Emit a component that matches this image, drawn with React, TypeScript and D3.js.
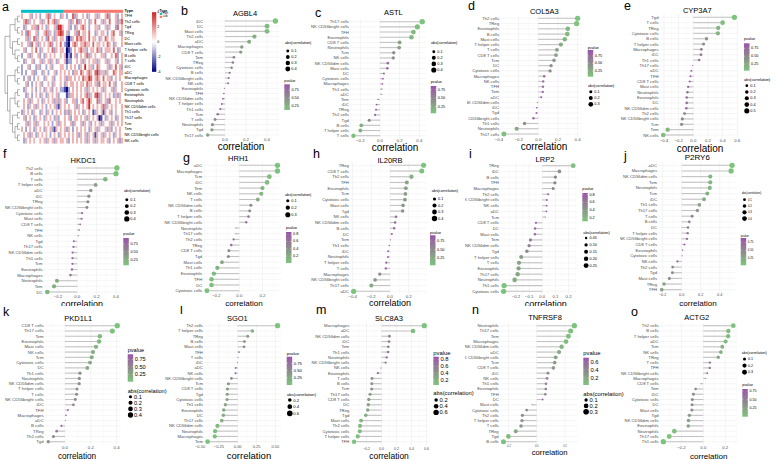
import React from 'react';
import * as d3 from 'd3';

const FONT = "'Liberation Sans', Arial, Helvetica, sans-serif";

// ---------------- Panel a : heatmap ----------------
const heatRows = ["TFH","Th2 cells","Tgd","TReg","DC","Mast cells","T helper cells","B cells","T cells","iDC","aDC","Macrophages","CD8 T cells","Cytotoxic cells","Eosinophils","Neutrophils","NK CD56dim cells","Th1 cells","Th17 cells","Tcm","Tem","NK CD56bright cells","NK cells"];
// digit levels 0..8 (4 = 0); z-score = (d - 4) * heatLevelStep
const heatLevelStep = 1.4;
const heatValues = [
  "5444534543 4456345443 5434463544 5435445354 4563445345",
  "4563545445 3546456354 4445354635 4543546445 3546445356",
  "4354455364 5435445387 5445343545 6543445534 4535443645",
  "5436544534 4563543568 6453445364 5546443545 5434564453",
  "4453546354 5436453545 5421354656 5546455435 4654554445",
  "5445364535 4545634546 4321456545 5655464554 5465435445",
  "4534454643 5445463545 5412345456 5534554653 4555464354",
  "3445354453 4354545445 4513245345 4563545445 5344546345",
  "4354453445 3545354354 4523344545 3545455354 4535445345",
  "3445344353 4434534445 5434545435 4745534654 4453546453",
  "3434453344 3543445345 4545435546 5456546735 5354465455",
  "4345343454 4354453445 4535545454 6557645654 6455345454",
  "4453434545 3445435445 4354554545 5465545364 5546453445",
  "4354454345 4354534543 3213454545 4535454545 3544535445",
  "4435434543 5435454534 4423554545 4563546735 4545435354",
  "4545354454 3545453535 4534455345 6457544635 4536445454",
  "4543545354 5434545325 4545445354 5457454545 6354545445",
  "3545435443 5435434545 4353545454 3545423545 2545345445",
  "4534543545 4354543534 4545345545 4535454512 4354543545",
  "4453545354 4545434535 4544535445 3545345453 5445354545",
  "5434543545 4354532545 4535434545 4543545354 4535345454",
  "4545354354 5454345435 4545454535 4535452545 3545435454",
  "4354545445 4535453545 5453454545 4535453545 5453454535",
];
const typeLevels = ["High", "Low"];
const typeHighCount = 21;
const heatLegendTicks = [4, 2, 0, -2, -4];
const dendroTree: any = [[[[0,1],[2,3]],[[4,5],[6,[7,8]]]],[[[9,10],[11,12]],[[[13,14],[15,16]],[[17,18],[[19,20],[21,22]]]]]];

// ---------------- Lollipop panels data ----------------
const agbl4Cells = ["iDC","DC","Mast cells","Th2 cells","aDC","Macrophages","CD8 T cells","Tem","TReg","Cytotoxic cells","B cells","NK CD56bright cells","NK cells","Eosinophils","TFH","NK CD56dim cells","T helper cells","Th1 cells","Tcm","T cells","Neutrophils","Tgd","Th17 cells"];
const agbl4Cor = [0.48,0.40,0.40,0.28,0.23,0.16,0.15,0.085,0.075,0.063,0.045,0.035,0.03,-0.006,-0.012,-0.02,-0.03,-0.045,-0.07,-0.095,-0.12,-0.125,-0.165];
const agbl4P = [0.12,0.18,0.18,0.25,0.3,0.4,0.42,0.6,0.62,0.66,0.72,0.76,0.78,0.93,0.9,0.88,0.82,0.75,0.68,0.55,0.45,0.44,0.36];

const astlCells = ["Th17 cells","NK CD56bright cells","TFH","Eosinophils","CD8 T cells","Neutrophils","Tcm","NK cells","NK CD56dim cells","Mast cells","DC","Cytotoxic cells","Macrophages","Th1 cells","aDC","Tem","iDC","TReg","Th2 cells","Tgd","B cells","T helper cells","T cells"];
const astlCor = [0.43,0.38,0.34,0.32,0.20,0.195,0.14,0.135,0.08,0.075,0.04,0.03,0.024,0.02,0.018,-0.02,-0.035,-0.04,-0.05,-0.11,-0.19,-0.2,-0.27];
const astlP = [0.05,0.09,0.12,0.14,0.3,0.3,0.45,0.45,0.65,0.67,0.8,0.83,0.85,0.86,0.86,0.86,0.81,0.8,0.77,0.55,0.22,0.2,0.08];

const col5a3Cells = ["Th2 cells","TReg","Eosinophils","B cells","Mast cells","T helper cells","T cells","CD8 T cells","Tcm","DC","Cytotoxic cells","Macrophages","NK cells","TFH","Tem","aDC","NK CD56dim cells","iDC","Tgd","NK CD56bright cells","Th1 cells","Neutrophils","Th17 cells"];
const col5a3Cor = [0.40,0.39,0.30,0.295,0.27,0.23,0.19,0.18,0.16,0.13,0.12,0.06,0.05,0.048,0.046,0.03,-0.01,-0.017,-0.02,-0.05,-0.14,-0.22,-0.35];
const col5a3P = [0.05,0.06,0.14,0.14,0.18,0.24,0.33,0.35,0.4,0.47,0.5,0.75,0.78,0.78,0.78,0.88,0.95,0.93,0.92,0.8,0.45,0.26,0.08];

const cyp3a7Cells = ["Tgd","T cells","TReg","Cytotoxic cells","B cells","T helper cells","Macrophages","iDC","Th1 cells","Th17 cells","aDC","TFH","CD8 T cells","Mast cells","Neutrophils","Eosinophils","DC","NK CD56dim cells","Th2 cells","NK CD56bright cells","Tcm","Tem","NK cells"];
const cyp3a7Cor = [0.56,0.40,0.34,0.335,0.18,0.14,0.11,0.105,0.08,-0.01,-0.03,-0.04,-0.05,-0.07,-0.08,-0.09,-0.09,-0.095,-0.12,-0.15,-0.16,-0.35,-0.41];
const cyp3a7P = [0.04,0.1,0.15,0.15,0.4,0.48,0.55,0.55,0.65,0.91,0.85,0.82,0.8,0.74,0.72,0.7,0.7,0.68,0.6,0.5,0.47,0.14,0.09];

const hkdc1Cells = ["Th2 cells","B cells","T cells","T helper cells","aDC","iDC","TReg","NK CD56bright cells","Cytotoxic cells","Mast cells","CD8 T cells","TFH","NK cells","Tgd","Th17 cells","NK CD56dim cells","Th1 cells","Tcm","Eosinophils","Macrophages","Neutrophils","Tem","DC"];
const hkdc1Cor = [0.41,0.40,0.29,0.19,0.14,0.12,0.11,0.10,0.05,0.045,0.03,0.02,0.015,-0.035,-0.04,-0.048,-0.05,-0.05,-0.055,-0.07,-0.21,-0.24,-0.31];
const hkdc1P = [0.07,0.08,0.18,0.35,0.45,0.5,0.53,0.56,0.76,0.78,0.86,0.9,0.94,0.84,0.82,0.78,0.78,0.78,0.76,0.7,0.3,0.24,0.16];

const hrh1Cells = ["aDC","Macrophages","Tcm","iDC","Tem","NK cells","T cells","NK CD56dim cells","B cells","T helper cells","NK CD56bright cells","Neutrophils","Th17 cells","Th2 cells","TReg","CD8 T cells","Tgd","Mast cells","Th1 cells","Eosinophils","TFH","DC","Cytotoxic cells"];
const hrh1Cor = [0.33,0.33,0.26,0.24,0.20,0.19,0.16,0.10,0.09,0.08,0.06,-0.03,-0.03,-0.05,-0.07,-0.09,-0.095,-0.15,-0.19,-0.22,-0.24,-0.24,-0.28];
const hrh1P = [0.01,0.01,0.05,0.07,0.13,0.14,0.2,0.45,0.5,0.55,0.65,0.85,0.86,0.72,0.62,0.52,0.5,0.25,0.14,0.08,0.06,0.06,0.03];

const il20rbCells = ["TReg","CD8 T cells","Th2 cells","TFH","Eosinophils","Tcm","Cytotoxic cells","Mast cells","Tgd","NK cells","NK CD56dim cells","B cells","DC","Tem","Th1 cells","iDC","Neutrophils","T helper cells","T cells","Macrophages","NK CD56bright cells","Th17 cells","aDC"];
const il20rbCor = [0.36,0.34,0.23,0.18,0.17,0.165,0.16,0.14,0.135,0.065,0.055,0.045,0.02,0.005,-0.008,-0.02,-0.022,-0.04,-0.045,-0.11,-0.16,-0.2,-0.39];
const il20rbP = [0.04,0.05,0.2,0.3,0.32,0.32,0.35,0.4,0.42,0.7,0.74,0.78,0.88,0.93,0.92,0.88,0.88,0.8,0.78,0.52,0.36,0.26,0.03];

const lrp2Cells = ["TReg","iDC","B cells","TFH","Macrophages","Th2 cells","NK CD56bright cells","NK cells","aDC","Tcm","CD8 T cells","DC","Mast cells","Tem","NK CD56dim cells","Tgd","T helper cells","T cells","Eosinophils","Th17 cells","Neutrophils","Th1 cells","Cytotoxic cells"];
const lrp2Cor = [0.235,0.13,0.10,0.096,0.083,0.045,0.035,0.033,0.032,0.023,-0.048,-0.055,-0.056,-0.09,-0.10,-0.117,-0.16,-0.177,-0.18,-0.187,-0.21,-0.29,-0.294];
const lrp2P = [0.14,0.45,0.52,0.53,0.56,0.72,0.76,0.78,0.78,0.84,0.72,0.7,0.7,0.6,0.56,0.5,0.38,0.34,0.34,0.32,0.28,0.13,0.12];

const p2ry6Cells = ["aDC","Macrophages","NK CD56dim cells","Tem","Neutrophils","Tcm","iDC","Th1 cells","Th17 cells","T cells","B cells","DC","T helper cells","NK CD56bright cells","CD8 T cells","Eosinophils","Cytotoxic cells","NK cells","Th2 cells","Tgd","Mast cells","TReg","TFH"];
const p2ry6Cor = [0.53,0.52,0.30,0.30,0.295,0.27,0.235,0.186,0.165,0.11,0.08,0.067,0.063,0.056,0.03,0.01,0.004,-0.045,-0.095,-0.098,-0.13,-0.186,-0.21];
const p2ry6P = [0.03,0.03,0.14,0.14,0.14,0.18,0.22,0.3,0.35,0.5,0.6,0.64,0.65,0.68,0.8,0.86,0.89,0.75,0.55,0.54,0.44,0.3,0.25];

const pkd1l1Cells = ["CD8 T cells","Th17 cells","Tem","Eosinophils","Mast cells","NK cells","Tcm","Cytotoxic cells","DC","Th1 cells","Neutrophils","NK CD56dim cells","T helper cells","T cells","NK CD56bright cells","iDC","TFH","Macrophages","aDC","B cells","TReg","Th2 cells","Tgd"];
const pkd1l1Cor = [0.405,0.367,0.27,0.264,0.24,0.217,0.207,0.194,0.173,0.116,0.111,0.11,0.093,0.09,0.08,0.065,0.023,0.008,0.003,-0.028,-0.065,-0.09,-0.13];
const pkd1l1P = [0.01,0.02,0.1,0.11,0.14,0.18,0.2,0.22,0.26,0.42,0.43,0.43,0.5,0.51,0.55,0.6,0.82,0.9,0.92,0.8,0.62,0.52,0.38];

const sgo1Cells = ["Th2 cells","T helper cells","TReg","B cells","Mast cells","TFH","T cells","iDC","aDC","NK cells","NK CD56bright cells","Tcm","CD8 T cells","Tgd","Cytotoxic cells","Th1 cells","Eosinophils","DC","Th17 cells","NK CD56dim cells","Neutrophils","Macrophages","Tem"];
const sgo1Cor = [0.53,0.195,0.133,0.09,0.085,0.018,0.004,-0.004,-0.027,-0.03,-0.084,-0.124,-0.137,-0.14,-0.142,-0.164,-0.186,-0.19,-0.212,-0.27,-0.30,-0.305,-0.40];
const sgo1P = [0.0,0.18,0.35,0.5,0.52,0.9,0.98,0.97,0.85,0.84,0.55,0.38,0.33,0.32,0.32,0.26,0.2,0.2,0.16,0.08,0.05,0.05,0.01];

const slc8a3Cells = ["Macrophages","aDC","NK CD56dim cells","iDC","Tem","Th1 cells","Neutrophils","NK CD56bright cells","NK cells","Eosinophils","T cells","B cells","Tcm","Th17 cells","CD8 T cells","DC","TReg","Tgd","Mast cells","Th2 cells","Cytotoxic cells","T helper cells","TFH"];
const slc8a3Cor = [0.57,0.42,0.105,0.10,0.09,0.088,0.07,0.055,-0.01,-0.05,-0.127,-0.13,-0.132,-0.153,-0.17,-0.176,-0.184,-0.21,-0.273,-0.287,-0.29,-0.317,-0.367];
const slc8a3P = [0.06,0.1,0.55,0.55,0.58,0.58,0.65,0.7,0.87,0.72,0.42,0.41,0.41,0.36,0.32,0.3,0.29,0.24,0.15,0.13,0.13,0.1,0.07];

const tnfrsf8Cells = ["Neutrophils","Th17 cells","Tem","Macrophages","NK CD56dim cells","aDC","NK CD56bright cells","Tcm","CD8 T cells","iDC","NK cells","Th1 cells","Eosinophils","TFH","DC","Mast cells","Cytotoxic cells","Th2 cells","T helper cells","T cells","TReg","Tgd","B cells"];
const tnfrsf8Cor = [0.266,0.24,0.224,0.207,0.176,0.158,0.134,0.127,0.118,0.08,0.073,0.066,0.064,0.061,0.042,-0.033,-0.071,-0.101,-0.104,-0.111,-0.148,-0.2,-0.235];
const tnfrsf8P = [0.02,0.04,0.05,0.07,0.12,0.16,0.22,0.24,0.27,0.4,0.43,0.46,0.47,0.48,0.58,0.7,0.44,0.33,0.32,0.3,0.2,0.08,0.04];

const actg2Cells = ["Th2 cells","B cells","T helper cells","aDC","Tcm","NK cells","TReg","T cells","TFH","NK CD56bright cells","Macrophages","CD8 T cells","Tem","iDC","Cytotoxic cells","DC","Mast cells","Tgd","NK CD56dim cells","Eosinophils","Neutrophils","Th17 cells","Th1 cells"];
const actg2Cor = [0.273,0.228,0.226,0.203,0.173,0.16,0.136,0.06,0.059,0.036,0.021,-0.021,-0.07,-0.09,-0.1,-0.102,-0.104,-0.127,-0.135,-0.137,-0.264,-0.31,-0.364];
const actg2P = [0.02,0.05,0.05,0.08,0.12,0.15,0.2,0.55,0.55,0.68,0.78,0.81,0.52,0.43,0.4,0.39,0.39,0.3,0.27,0.27,0.03,0.01,0.0];

const ticks1 = [0, 0.2, 0.4];
const ticks2 = [-0.2, 0, 0.2, 0.4];
const ticks3 = [-0.4, -0.2, 0, 0.2, 0.4];
const ticks4 = [-0.4, -0.2, 0, 0.2, 0.4, 0.6];
const ticks5 = [-0.2, 0, 0.2];
const ticks6 = [-0.4, -0.2, 0, 0.2];
const ticks7 = [-0.2, -0.1, 0, 0.1, 0.2];
const ticks8 = [-0.5, -0.25, 0, 0.25, 0.5];
const ticks9 = [-0.2, 0, 0.2, 0.4, 0.6];

const pBreaks3 = [0.25, 0.5, 0.75];
const pBreaks4 = [0.2, 0.4, 0.6, 0.8];
const pBreaksN = [0.2, 0.4, 0.6];
const sBreaks3 = [0.1, 0.2, 0.3];
const sBreaks4 = [0.1, 0.2, 0.3, 0.4];
const sBreaks5 = [0.1, 0.2, 0.3, 0.4, 0.5];
const sBreaksI = [0.05, 0.1, 0.15, 0.2, 0.25];
const sBreaksL = [0.2, 0.4, 0.6];

const PGREEN = '#7cc47c', PGREY = '#8c8c8c', PPURPLE = '#9b52ab';
const D0 = 1.0, D1 = 5.3;

type SizeLeg = { x: number; titleY: number; firstY: number; step: number; breaks: number[]; fmt: string };
type PLeg = { x: number; titleY: number; top: number; bottom: number; breaks: number[]; fmt: string };
type Cfg = {
  id: string; letter: string; lx: number; ly: number; gene: string;
  cells: string[]; cor: number[]; p: number[];
  clipL: number; clipT: number; clipB: number;
  x0: number; x1: number; yTop: number; yBot: number; tickY: number; xlabY: number; xlabX: number;
  titleX: number; titleY: number; ticks: number[]; tfmt: string;
  fsY: number; fsT: number; fsTitle: number; fsX: number; fsL: number;
  sl: SizeLeg; pl: PLeg;
};

const mk = (o: any): Cfg => ({ fsY: 4.2, fsT: 4.3, fsTitle: 7.5, fsX: 10, fsL: 3.8, tfmt: '.1f', ...o });

const PANELS: Cfg[] = [
  mk({ id: 'b', letter: 'b', lx: 181, ly: 11, gene: 'AGBL4', cells: agbl4Cells, cor: agbl4Cor, p: agbl4P, clipL: 155, clipT: 0, clipB: 152,
    x0: 204.3, x1: 278.8, yTop: 21, yBot: 135, tickY: 139.8, xlabY: 146.5, xlabX: 241, titleX: 245, titleY: 13.3, ticks: ticks1,
    sl: { x: 285, titleY: 43.3, firstY: 51, step: 6, breaks: sBreaks4, fmt: '.1f' }, pl: { x: 284.3, titleY: 81, top: 84.3, bottom: 110, breaks: pBreaks3, fmt: '.2f' } }),
  mk({ id: 'c', letter: 'c', lx: 315, ly: 13, gene: 'ASTL', cells: astlCells, cor: astlCor, p: astlP, clipL: 310, clipT: 0, clipB: 152,
    x0: 350, x1: 425.7, yTop: 21.7, yBot: 135.7, tickY: 140.5, xlabY: 147.2, xlabX: 395, titleX: 393.3, titleY: 12.7, ticks: ticks2,
    sl: { x: 431, titleY: 43.3, firstY: 51.7, step: 6.1, breaks: sBreaks4, fmt: '.1f' }, pl: { x: 430.7, titleY: 81.7, top: 86, bottom: 113.3, breaks: pBreaks3, fmt: '.2f' } }),
  mk({ id: 'd', letter: 'd', lx: 468, ly: 6, gene: 'COL5A3', cells: col5a3Cells, cor: col5a3Cor, p: col5a3P, clipL: 467, clipT: 0, clipB: 152,
    x0: 500.2, x1: 581.3, yTop: 18.3, yBot: 134, tickY: 139.8, xlabY: 146.7, xlabX: 544, titleX: 544.3, titleY: 11, ticks: ticks3,
    pl: { x: 587.7, titleY: 47.7, top: 50, bottom: 76.7, breaks: pBreaks3, fmt: '.2f' }, sl: { x: 588, titleY: 86, firstY: 91.7, step: 6.3, breaks: sBreaks3, fmt: '.1f' } }),
  mk({ id: 'e', letter: 'e', lx: 624, ly: 6, gene: 'CYP3A7', cells: cyp3a7Cells, cor: cyp3a7Cor, p: cyp3a7P, clipL: 621, clipT: 0, clipB: 152,
    x0: 659.7, x1: 737.9, yTop: 17.3, yBot: 135, tickY: 140.6, xlabY: 148, xlabX: 700, titleX: 697.3, titleY: 10, ticks: ticks4,
    pl: { x: 744, titleY: 39.3, top: 43.3, bottom: 70.7, breaks: pBreaks3, fmt: '.2f' }, sl: { x: 744, titleY: 80, firstY: 85.7, step: 6.3, breaks: sBreaks5, fmt: '.1f' } }),
  mk({ id: 'f', letter: 'f', lx: 3, ly: 154, gene: 'HKDC1', cells: hkdc1Cells, cor: hkdc1Cor, p: hkdc1P, clipL: 0, clipT: 149, clipB: 306,
    x0: 43.8, x1: 120.4, yTop: 168, yBot: 292, tickY: 296.8, xlabY: 304, xlabX: 82, titleX: 83.3, titleY: 160.7, ticks: ticks2, fsX: 9,
    sl: { x: 124, titleY: 190.7, firstY: 199.7, step: 6.4, breaks: sBreaks4, fmt: '.1f' }, pl: { x: 123.3, titleY: 234, top: 238, bottom: 265.3, breaks: pBreaks3, fmt: '.2f' } }),
  mk({ id: 'g', letter: 'g', lx: 183, ly: 158, gene: 'HRH1', cells: hrh1Cells, cor: hrh1Cor, p: hrh1P, clipL: 155, clipT: 149, clipB: 306,
    x0: 203.4, x1: 281, yTop: 165.3, yBot: 290.7, tickY: 295.3, xlabY: 303, xlabX: 244, titleX: 238.3, titleY: 158, ticks: ticks5, fsX: 8,
    sl: { x: 285, titleY: 194.7, firstY: 200.7, step: 7, breaks: sBreaks3, fmt: '.1f' }, pl: { x: 286, titleY: 228, top: 232, bottom: 263, breaks: pBreaks4, fmt: '.1f' } }),
  mk({ id: 'h', letter: 'h', lx: 313, ly: 154, gene: 'IL20RB', cells: il20rbCells, cor: il20rbCor, p: il20rbP, clipL: 310, clipT: 149, clipB: 306,
    x0: 350.1, x1: 427.1, yTop: 165.3, yBot: 291.3, tickY: 296.1, xlabY: 302.8, xlabX: 390, titleX: 390, titleY: 160.7, ticks: ticks6, fsX: 9,
    sl: { x: 431.7, titleY: 191.3, firstY: 199, step: 6.5, breaks: sBreaks4, fmt: '.1f' }, pl: { x: 430, titleY: 233, top: 235.3, bottom: 265.3, breaks: pBreaks3, fmt: '.2f' } }),
  mk({ id: 'i', letter: 'i', lx: 469, ly: 154, gene: 'LRP2', cells: lrp2Cells, cor: lrp2Cor, p: lrp2P, clipL: 465, clipT: 149, clipB: 306,
    x0: 500.1, x1: 576.7, yTop: 165.7, yBot: 291.3, tickY: 296.6, xlabY: 303.8, xlabX: 545.7, titleX: 545, titleY: 159.7, ticks: ticks7, fsX: 9,
    pl: { x: 582.3, titleY: 188.7, top: 193, bottom: 221.3, breaks: pBreaks4, fmt: '.1f' }, sl: { x: 583.3, titleY: 233, firstY: 238, step: 6.9, breaks: sBreaksI, fmt: '.2f' } }),
  mk({ id: 'j', letter: 'j', lx: 624, ly: 156, gene: 'P2RY6', cells: p2ry6Cells, cor: p2ry6Cor, p: p2ry6P, clipL: 620, clipT: 149, clipB: 306,
    x0: 658.2, x1: 735.6, yTop: 165.3, yBot: 289.7, tickY: 294.5, xlabY: 303, xlabX: 698, titleX: 697.3, titleY: 157, ticks: ticks2, fsX: 8, fsL: 2.8, fsT: 3.8, fsTitle: 8,
    sl: { x: 741.7, titleY: 193, firstY: 199.7, step: 6.3, breaks: sBreaks4, fmt: '.1f' }, pl: { x: 740.7, titleY: 236.3, top: 238, bottom: 265.3, breaks: pBreaks3, fmt: '.2f' } }),
  mk({ id: 'k', letter: 'k', lx: 3, ly: 312, gene: 'PKD1L1', cells: pkd1l1Cells, cor: pkd1l1Cor, p: pkd1l1P, clipL: 0, clipT: 306, clipB: 461,
    x0: 44.8, x1: 120.7, yTop: 325.7, yBot: 441.7, tickY: 447.3, xlabY: 456.3, xlabX: 77, titleX: 78.3, titleY: 318.3, ticks: ticks1, fsX: 8.2, fsL: 5.6, fsY: 4.3,
    pl: { x: 127.7, titleY: 350, top: 354.3, bottom: 381.7, breaks: pBreaks3, fmt: '.2f' }, sl: { x: 127.7, titleY: 391, firstY: 396.7, step: 6.1, breaks: sBreaks4, fmt: '.1f' } }),
  mk({ id: 'l', letter: 'l', lx: 180, ly: 310, gene: 'SGO1', cells: sgo1Cells, cor: sgo1Cor, p: sgo1P, clipL: 155, clipT: 306, clipB: 461,
    x0: 204.1, x1: 281.1, yTop: 325.7, yBot: 441.7, tickY: 446.5, xlabY: 455.5, xlabX: 249, titleX: 237.3, titleY: 318.3, ticks: ticks8, tfmt: '.2f', fsX: 9.5, fsL: 4.2, fsT: 4.0,
    pl: { x: 286.7, titleY: 353.3, top: 356.7, bottom: 385, breaks: pBreaks3, fmt: '.2f' }, sl: { x: 287, titleY: 394.3, firstY: 400, step: 6.7, breaks: sBreaksL, fmt: '.1f' } }),
  mk({ id: 'm', letter: 'm', lx: 316, ly: 310, gene: 'SLC8A3', cells: slc8a3Cells, cor: slc8a3Cor, p: slc8a3P, clipL: 300, clipT: 306, clipB: 461,
    x0: 350.5, x1: 427.8, yTop: 325.7, yBot: 441.7, tickY: 448.6, xlabY: 456.2, xlabX: 389, titleX: 389, titleY: 318, ticks: ticks9, fsX: 8.5, fsL: 5.8, fsT: 3.6,
    pl: { x: 433.3, titleY: 353.3, top: 356.7, bottom: 385, breaks: pBreaks4, fmt: '.1f' }, sl: { x: 433.3, titleY: 393.3, firstY: 400, step: 6.2, breaks: sBreaksL, fmt: '.1f' } }),
  mk({ id: 'n', letter: 'n', lx: 472, ly: 310, gene: 'TNFRSF8', cells: tnfrsf8Cells, cor: tnfrsf8Cor, p: tnfrsf8P, clipL: 465, clipT: 306, clipB: 461,
    x0: 499.9, x1: 577.9, yTop: 325.7, yBot: 441.7, tickY: 446.2, xlabY: 452.6, xlabX: 549.7, titleX: 545, titleY: 317.7, ticks: ticks5, fsX: 7.7, fsL: 5.8, fsT: 2.6,
    pl: { x: 583.3, titleY: 353.3, top: 357.7, bottom: 385, breaks: pBreaksN, fmt: '.1f' }, sl: { x: 583.3, titleY: 394.3, firstY: 400, step: 5.9, breaks: sBreaks3, fmt: '.1f' } }),
  mk({ id: 'o', letter: 'o', lx: 631, ly: 312, gene: 'ACTG2', cells: actg2Cells, cor: actg2Cor, p: actg2P, clipL: 620, clipT: 306, clipB: 461,
    x0: 659.8, x1: 736.8, yTop: 325.7, yBot: 441.7, tickY: 447.3, xlabY: 456, xlabX: 708.7, titleX: 696.7, titleY: 317.7, ticks: ticks5, fsX: 8, fsL: 3.6,
    sl: { x: 741.7, titleY: 353.3, firstY: 359, step: 6.6, breaks: sBreaks3, fmt: '.1f' }, pl: { x: 742.3, titleY: 385, top: 389, bottom: 416.7, breaks: pBreaks3, fmt: '.2f' } }),
];

function Lollipop({ c }: { c: Cfg }) {
  const lo = d3.min(c.cor)!, hi = d3.max(c.cor)!;
  const span = hi - lo;
  const x = d3.scaleLinear().domain([lo - 0.05 * span, hi + 0.05 * span]).range([c.x0, c.x1]);
  const y = d3.scalePoint<string>().domain(c.cells).range([c.yTop, c.yBot]);
  const step = (c.yBot - c.yTop) / (c.cells.length - 1);
  const pTop = c.yTop - 0.6 * step, pBot = c.yBot + 0.6 * step;
  const abs = c.cor.map(Math.abs);
  const aMin = d3.min(abs)!, aMax = d3.max(abs)!;
  const rad = (v: number) => {
    const t = Math.max(0, (v - aMin) / (aMax - aMin));
    return (D0 + (D1 - D0) * Math.sqrt(t)) / 2;
  };
  const pMin = d3.min(c.p)!, pMax = d3.max(c.p)!;
  const col = d3.scaleLinear<string>().domain([pMin, (pMin + pMax) / 2, pMax]).range([PGREEN, PGREY, PPURPLE]).interpolate(d3.interpolateLab);
  const fmt = d3.format(c.tfmt);
  const tickStep = c.ticks[1] - c.ticks[0];
  const [d0, d1] = x.domain();
  const minor: number[] = [];
  for (let v = c.ticks[0] - tickStep / 2; v <= d1; v += tickStep) if (v >= d0) minor.push(v);
  const order = d3.range(c.cells.length);
  const gid = 'grad-' + c.id;
  const pScaleY = d3.scaleLinear().domain([pMin, pMax]).range([c.pl.bottom, c.pl.top]);
  const barW = 5.5;
  const fL = c.fsL;
  return (
    <g clipPath={`url(#clip-${c.id})`}>
      <defs>
        <clipPath id={`clip-${c.id}`}>
          <rect x={c.clipL} y={c.clipT} width={777 - c.clipL} height={c.clipB - c.clipT} />
        </clipPath>
        <linearGradient id={gid} x1="0" y1="1" x2="0" y2="0">
          {d3.range(0, 1.0001, 0.1).map((t) => (
            <stop key={t} offset={t} stopColor={col(pMin + t * (pMax - pMin))} />
          ))}
        </linearGradient>
      </defs>
      {minor.map((v) => (
        <line key={'mn' + v} x1={x(v)} x2={x(v)} y1={pTop} y2={pBot} stroke="#f3f3f3" strokeWidth={0.35} />
      ))}
      {c.ticks.map((v) => (
        <line key={'mj' + v} x1={x(v)} x2={x(v)} y1={pTop} y2={pBot} stroke="#e9e9e9" strokeWidth={0.5} />
      ))}
      {c.cells.map((cell) => (
        <line key={'hg' + cell} x1={c.x0} x2={c.x1} y1={y(cell)} y2={y(cell)} stroke="#ececec" strokeWidth={0.5} />
      ))}
      {order.map((i) => (
        <line key={'st' + i} x1={x(0)} x2={x(c.cor[i])} y1={y(c.cells[i])} y2={y(c.cells[i])} stroke="#c3c3c3" strokeWidth={1.1} />
      ))}
      {order.map((i) => (
        <circle key={'pt' + i} cx={x(c.cor[i])} cy={y(c.cells[i])} r={rad(abs[i])} fill={col(c.p[i])} />
      ))}
      {c.cells.map((cell) => (
        <text key={'yl' + cell} x={c.x0 - 1.2} y={y(cell)} fontSize={c.fsY} fill="#4d4d4d" textAnchor="end" dominantBaseline="central">{cell}</text>
      ))}
      {c.ticks.map((v) => (
        <text key={'xt' + v} x={x(v)} y={c.tickY} fontSize={c.fsT} fill="#4d4d4d" textAnchor="middle" dominantBaseline="central">{fmt(v)}</text>
      ))}
      <text x={c.xlabX} y={c.xlabY} fontSize={c.fsX} fill="#000" textAnchor="middle" dominantBaseline="central">correlation</text>
      <text x={c.titleX} y={c.titleY} fontSize={c.fsTitle} fill="#000" textAnchor="middle" dominantBaseline="central">{c.gene}</text>
      <text x={c.sl.x} y={c.sl.titleY} fontSize={fL} fill="#000" dominantBaseline="central">abs(correlation)</text>
      {c.sl.breaks.map((b, i) => (
        <g key={'sl' + b}>
          <circle cx={c.sl.x + 2.8} cy={c.sl.firstY + i * c.sl.step} r={rad(b)} fill="#000" />
          <text x={c.sl.x + 6.3} y={c.sl.firstY + i * c.sl.step} fontSize={fL} fill="#000" dominantBaseline="central">{d3.format(c.sl.fmt)(b)}</text>
        </g>
      ))}
      <text x={c.pl.x} y={c.pl.titleY} fontSize={fL} fill="#000" dominantBaseline="central">pvalue</text>
      <rect x={c.pl.x} y={c.pl.top} width={barW} height={c.pl.bottom - c.pl.top} fill={`url(#${gid})`} />
      {c.pl.breaks.map((b) => (
        <g key={'pl' + b}>
          <line x1={c.pl.x} x2={c.pl.x + 1.1} y1={pScaleY(b)} y2={pScaleY(b)} stroke="#fff" strokeWidth={0.4} />
          <line x1={c.pl.x + barW - 1.1} x2={c.pl.x + barW} y1={pScaleY(b)} y2={pScaleY(b)} stroke="#fff" strokeWidth={0.4} />
          <text x={c.pl.x + barW + 1.6} y={pScaleY(b)} fontSize={fL} fill="#000" dominantBaseline="central">{d3.format(c.pl.fmt)(b)}</text>
        </g>
      ))}
      <text x={c.lx} y={c.ly} fontSize={12.5} fill="#000" dominantBaseline="central">{c.letter}</text>
    </g>
  );
}

function Heatmap() {
  const hx0 = 21, hx1 = 123, hy0 = 13.3, hy1 = 143.5;
  const nCols = heatValues[0].replace(/ /g, '').length;
  const xs = d3.scaleBand<number>().domain(d3.range(nCols)).range([hx0, hx1]);
  const ys = d3.scaleBand<string>().domain(heatRows).range([hy0, hy1]);
  const color = d3.scaleLinear<string>().domain([-4, 0, 4]).range(['#000080', '#ffffff', '#cd2626']).clamp(true);
  const cells: JSX.Element[] = [];
  heatValues.forEach((row, r) => {
    row.replace(/ /g, '').split('').forEach((ch, ci) => {
      const v = (+ch - 4) * heatLevelStep;
      cells.push(<rect key={r + '-' + ci} x={xs(ci)!} y={ys(heatRows[r])!} width={xs.bandwidth() + 0.05} height={ys.bandwidth() + 0.05} fill={color(v)} />);
    });
  });
  const rowY = (i: number) => ys(heatRows[i])! + ys.bandwidth() / 2;
  const depth = (n: any): number => (Array.isArray(n) ? 1 + Math.max(...n.map(depth)) : 0);
  const maxH = depth(dendroTree);
  const dxR = 20, dxL = 5;
  const xOf = (h: number) => dxR - (h / maxH) * (dxR - dxL);
  const segs: [number, number, number, number][] = [];
  const build = (n: any): { y: number; h: number } => {
    if (!Array.isArray(n)) return { y: rowY(n), h: 0 };
    const ch = n.map(build);
    const h = Math.max(...ch.map((c: any) => c.h)) + 1;
    const xp = xOf(h);
    segs.push([xp, ch[0].y, xp, ch[ch.length - 1].y]);
    ch.forEach((c: any) => segs.push([xp, c.y, xOf(c.h), c.y]));
    return { y: (ch[0].y + ch[ch.length - 1].y) / 2, h };
  };
  build(dendroTree);
  const lgTop = 12.2, lgBot = 71.8;
  const lgScale = d3.scaleLinear().domain([-4, 4]).range([lgBot, lgTop]);
  return (
    <g>
      <defs>
        <linearGradient id="heatgrad" x1="0" y1="1" x2="0" y2="0">
          <stop offset="0" stopColor="#000080" />
          <stop offset="0.5" stopColor="#ffffff" />
          <stop offset="1" stopColor="#cd2626" />
        </linearGradient>
      </defs>
      {cells}
      <rect x={hx0} y={9.8} width={xs(typeHighCount)! - hx0} height={3} fill="#00bfc4" />
      <rect x={xs(typeHighCount)!} y={9.8} width={hx1 - xs(typeHighCount)!} height={3} fill="#f8766d" />
      <text x={124.5} y={11.2} fontSize={3.8} fontWeight="bold" fill="#000" dominantBaseline="central">Type</text>
      {heatRows.map((r) => (
        <text key={r} x={124.5} y={ys(r)! + ys.bandwidth() / 2} fontSize={3.8} fill="#000" dominantBaseline="central">{r}</text>
      ))}
      {segs.map((s, i) => (
        <line key={'dg' + i} x1={s[0]} y1={s[1]} x2={s[2]} y2={s[3]} stroke="#555" strokeWidth={0.45} />
      ))}
      <rect x={152} y={lgTop} width={4.3} height={lgBot - lgTop} fill="url(#heatgrad)" />
      {heatLegendTicks.map((t) => (
        <text key={'ht' + t} x={157.3} y={lgScale(t)} fontSize={3.6} fill="#000" dominantBaseline="central">{t}</text>
      ))}
      <text x={159.5} y={10.8} fontSize={3.4} fontWeight="bold" fill="#000" dominantBaseline="central">Type</text>
      <rect x={159.7} y={12.8} width={2.4} height={2.1} fill="#00bfc4" />
      <rect x={159.7} y={15.8} width={2.4} height={2.1} fill="#f8766d" />
      <text x={162.8} y={13.85} fontSize={2.6} fill="#000" dominantBaseline="central">{typeLevels[0]}</text>
      <text x={162.8} y={16.85} fontSize={2.6} fill="#000" dominantBaseline="central">{typeLevels[1]}</text>
      <text x={2} y={7} fontSize={12.5} fill="#000" dominantBaseline="central">a</text>
    </g>
  );
}

export default function App() {
  return (
    <svg width={777} height={461} style={{ position: 'absolute', left: 0, top: 0, background: '#fff', fontFamily: FONT }}>
      <rect x={0} y={0} width={777} height={461} fill="#fff" />
      <Heatmap />
      {PANELS.map((c) => (
        <Lollipop key={c.id} c={c} />
      ))}
    </svg>
  );
}
